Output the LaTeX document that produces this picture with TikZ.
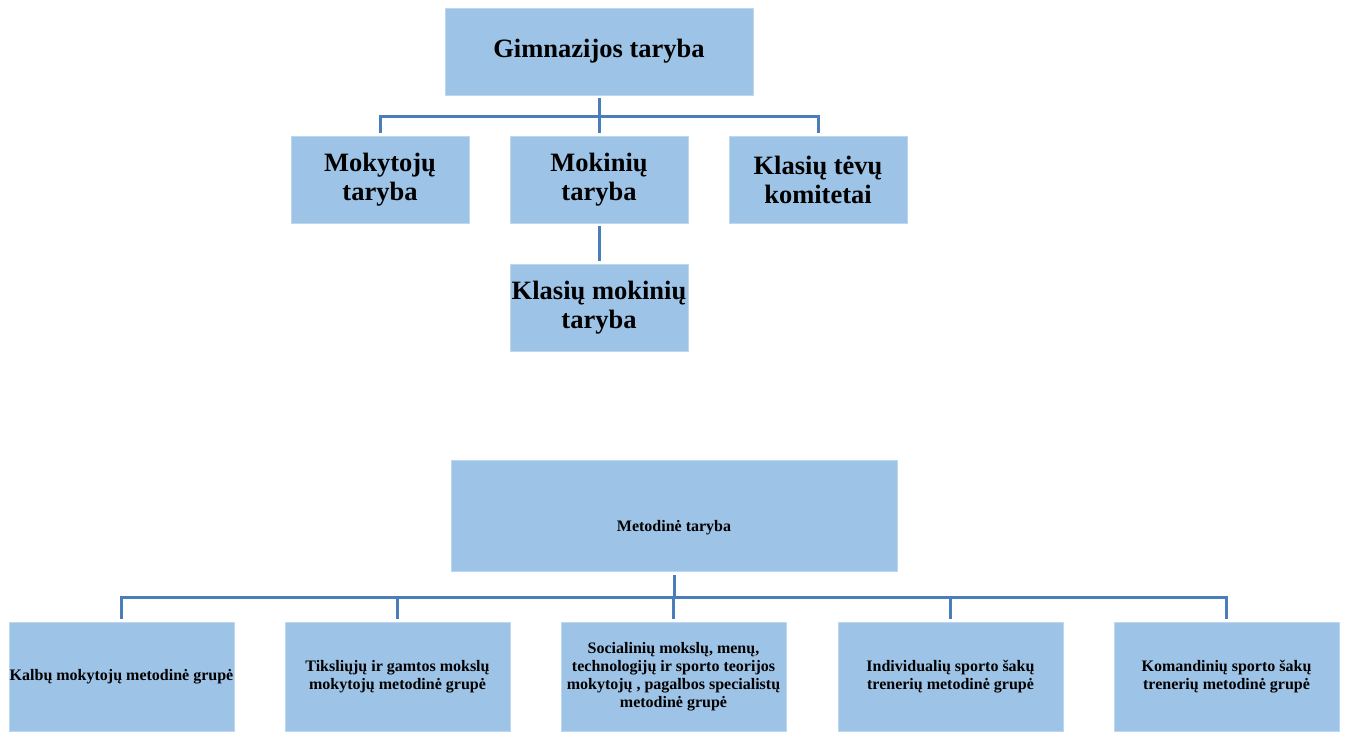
\documentclass[tikz,border=0pt]{standalone}
\usepackage{xcolor}
\usepackage{fontspec}
\setmainfont{Liberation Serif}
\usepackage{tikz}

\definecolor{boxblue}{HTML}{9DC3E6}
\definecolor{boxedge}{HTML}{BDD7EE}
\definecolor{linkblue}{HTML}{4A7EBB}

\tikzset{
    bigbox/.style={fill=boxblue, draw=boxedge, line width=0.8pt, align=center,
        font=\fontsize{26.5}{29}\selectfont\bfseries, inner sep=0pt},
    smallbox/.style={fill=boxblue, draw=boxedge, line width=0.8pt, align=center,
        font=\fontsize{16}{18}\selectfont\bfseries, inner sep=0pt},
    link/.style={-, draw=linkblue, line width=3pt}
}

\begin{document}
\begin{tikzpicture}[x=1pt, y=-1pt]
        \useasboundingbox (0,0) rectangle (1346,731);
        % upper chart
        \node[bigbox, minimum width=308pt, minimum height=87pt] (gim) at (599,51.5) {Gimnazijos taryba};
        \node[bigbox, minimum width=178pt, minimum height=87pt] (mkt) at (380,179.5) {Mokytojų\\taryba};
        \node[bigbox, minimum width=178pt, minimum height=87pt] (mkn) at (599,179.5) {Mokinių\\taryba};
        \node[bigbox, minimum width=178pt, minimum height=87pt] (tev) at (818,179.5) {Klasių tėvų\\komitetai};
        \node[bigbox, minimum width=178pt, minimum height=87pt] (klm) at (599,307.5) {Klasių mokinių\\taryba};
        \coordinate (bus) at (599,116);
        \draw[link] ([yshift=-3pt]gim.south) -- ([yshift=3pt]mkn.north);
        \draw[link] ([yshift=3pt]mkt.north) |- (bus) -| ([yshift=3pt]tev.north);
        \draw[link] ([yshift=-3pt]mkn.south) -- ([yshift=3pt]klm.north);
        % lower chart
        \node[smallbox, minimum width=446pt, minimum height=111pt] (met) at (674,515.5) {};
        \node[smallbox, draw=none, fill=none] (metl) at (674,528) {Metodinė taryba};
        \node[smallbox, minimum width=225pt, minimum height=109pt] (g1) at (121.5,676.5) {Kalbų mokytojų metodinė grupė};
        \node[smallbox, minimum width=225pt, minimum height=109pt] (g2) at (397.5,676.5) {Tiksliųjų ir gamtos mokslų\\mokytojų metodinė grupė};
        \node[smallbox, minimum width=225pt, minimum height=109pt] (g3) at (673.5,676.5) {Socialinių mokslų, menų,\\technologijų ir sporto teorijos\\mokytojų , pagalbos specialistų\\metodinė grupė};
        \node[smallbox, minimum width=225pt, minimum height=109pt] (g4) at (950.5,676.5) {Individualių sporto šakų\\trenerių metodinė grupė};
        \node[smallbox, minimum width=225pt, minimum height=109pt] (g5) at (1226.5,676.5) {Komandinių sporto šakų\\trenerių metodinė grupė};
        \coordinate (bus2) at (674,597);
        \draw[link] ([yshift=-4pt]met.south) -- (bus2);
        \draw[link] ([yshift=3pt]g1.north) |- (bus2) -| ([yshift=3pt]g5.north);
        \foreach \g in {g2,g3,g4}
            \draw[link] (\g.north |- bus2) -- ([yshift=3pt]\g.north);
    \end{tikzpicture}
\end{document}
